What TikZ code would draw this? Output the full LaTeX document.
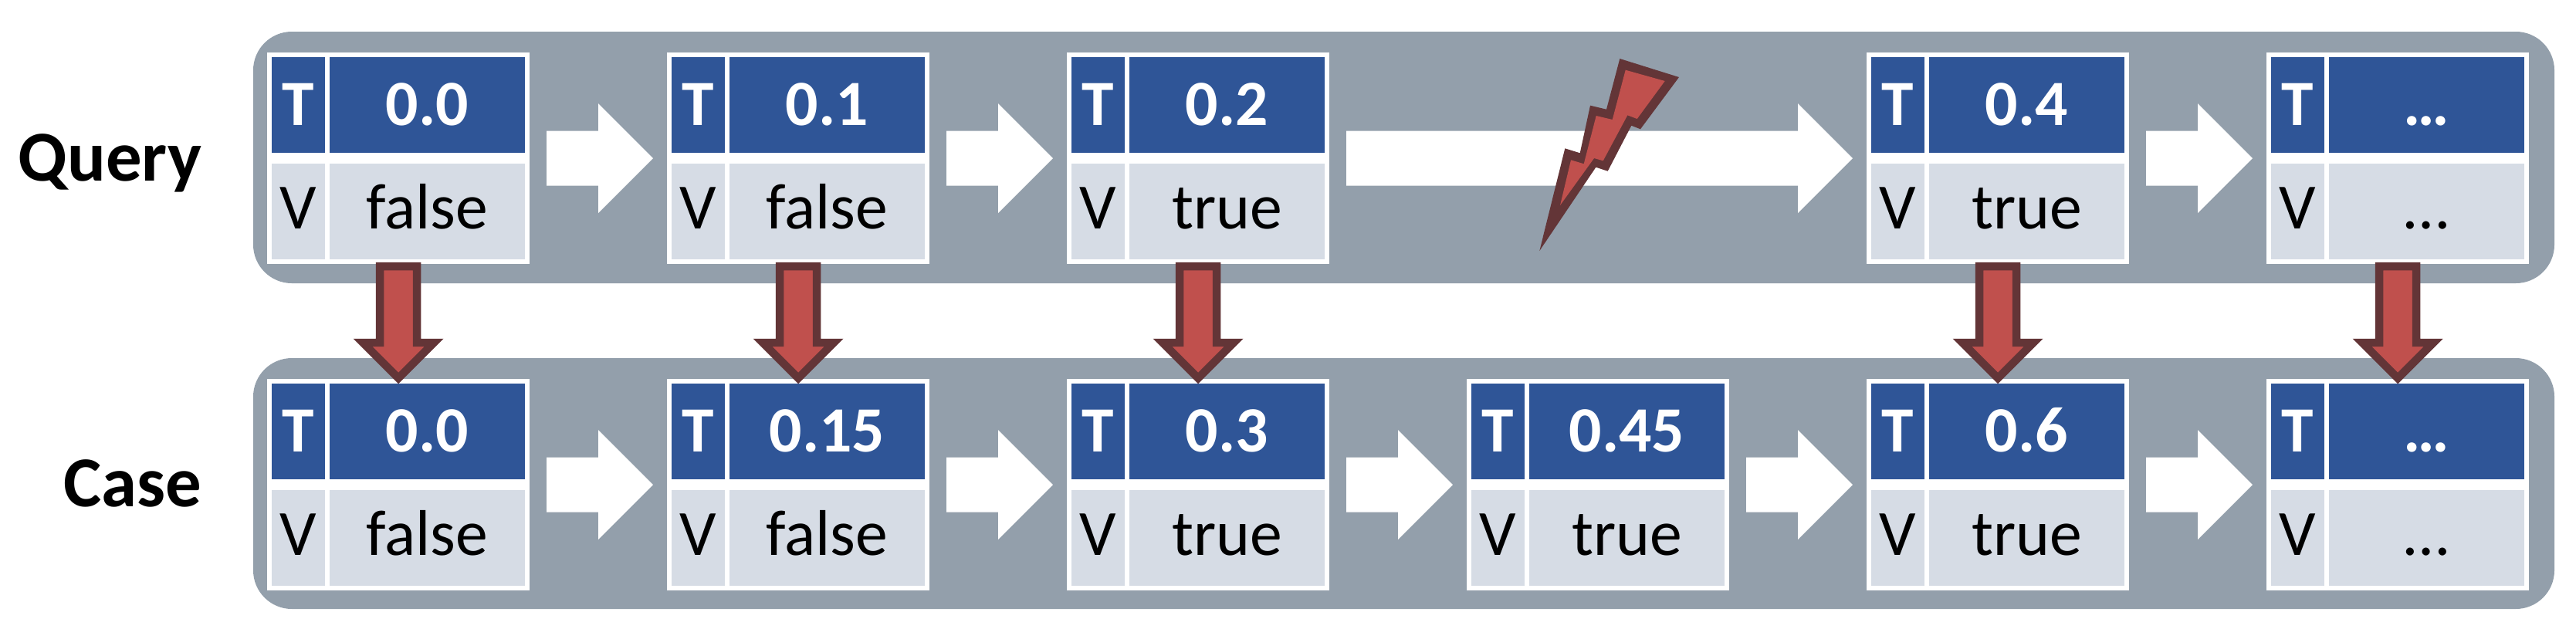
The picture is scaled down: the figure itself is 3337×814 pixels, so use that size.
\documentclass[tikz,border=0pt]{standalone}
\usepackage{fontspec}
\setmainfont{Carlito}
\usetikzlibrary{calc}
\definecolor{panelgray}{RGB}{147,159,171}
\definecolor{cellblue}{RGB}{47,85,151}
\definecolor{celllight}{RGB}{214,220,229}
\definecolor{redfill}{RGB}{192,80,77}
\definecolor{reddark}{RGB}{99,53,55}
\newcommand\cellfont{\fontsize{23.8pt}{28pt}\selectfont}
\newcommand\labelfont{\fontsize{26.4pt}{30pt}\selectfont\bfseries}
\tikzset{
  boxbg/.style={fill=white, draw=none, minimum width=3.4cm, minimum height=2.74cm, inner sep=0pt, outer sep=0pt},
  tcell/.style={fill=cellblue, text=white, font=\cellfont\bfseries, minimum width=0.69cm, minimum height=1.24cm, inner sep=0pt, outer sep=0pt, text height=0.53cm, text depth=0cm},
  tvalcell/.style={tcell, minimum width=2.53cm},
  vcell/.style={fill=celllight, text=black, font=\cellfont, minimum width=0.69cm, minimum height=1.24cm, inner sep=0pt, outer sep=0pt, text height=0.53cm, text depth=0.09cm},
  vvalcell/.style={vcell, minimum width=2.53cm},
  rowlabel/.style={font=\labelfont, text=black, inner sep=0pt, anchor=base east},
  panelbg/.style={fill=panelgray, rounded corners=0.5cm},
  redarr/.style={fill=redfill, draw=reddark, line width=2.95pt, line join=miter},
  blockarr/.style={fill=white}
}
\newcommand\tvbox[5]{%
  \node[boxbg, anchor=north west] (#1) at (#2,#3) {};
  \node[tcell] (#1t) at ($(#1.north west)+(40.5,68)$) {T};
  \node[tvalcell] (#1tv) at ($(#1.north west)+(207.5,68)$) {#4};
  \node[vcell] (#1v) at ($(#1.north west)+(40.5,206)$) {V};
  \node[vvalcell] (#1vv) at ($(#1.north west)+(207.5,206)$) {#5};
}
\newcommand\whitearrow[2]{%
  \fill[blockarr] ($(#1.east)+(22,-35.5)$) -- ($(#2.west)+(-89,-35.5)$) -- ($(#2.west)+(-89,-71)$)
    -- ($(#2.west)+(-18,0)$) -- ($(#2.west)+(-89,71)$) -- ($(#2.west)+(-89,35.5)$)
    -- ($(#1.east)+(22,35.5)$) -- cycle;
}
\newcommand\redarrow[2]{%
  \draw[redarr] ($(#1.south)+(-24,3)$) -- ($(#1.south)+(24,3)$) -- ($(#2.north)+(24,-47)$)
    -- ($(#2.north)+(46,-47)$) -- ($(#2.north)+(0,-1)$) -- ($(#2.north)+(-46,-47)$)
    -- ($(#2.north)+(-24,-47)$) -- cycle;
}
\begin{document}
\begin{tikzpicture}[x=0.01cm, y=-0.01cm]
\useasboundingbox (0,0) rectangle (3337,814);
% panels
\path[panelbg] (328,41) rectangle (3309,367);
\path[panelbg] (328,464) rectangle (3309,789);
% labels
\node[rowlabel] (qlabel) at (262,234) {Query};
\node[rowlabel] (clabel) at (262,656) {Case};
% query boxes
\tvbox{q1}{346}{68}{0.0}{false}
\tvbox{q2}{864}{68}{0.1}{false}
\tvbox{q3}{1382}{68}{0.2}{true}
\tvbox{q5}{2418}{68}{0.4}{true}
\tvbox{q6}{2936}{68}{…}{…}
% case boxes
\tvbox{c1}{346}{491}{0.0}{false}
\tvbox{c2}{864}{491}{0.15}{false}
\tvbox{c3}{1382}{491}{0.3}{true}
\tvbox{c4}{1900}{491}{0.45}{true}
\tvbox{c5}{2418}{491}{0.6}{true}
\tvbox{c6}{2936}{491}{…}{…}
% white arrows
\whitearrow{q1}{q2}
\whitearrow{q2}{q3}
\whitearrow{q3}{q5}
\whitearrow{q5}{q6}
\whitearrow{c1}{c2}
\whitearrow{c2}{c3}
\whitearrow{c3}{c4}
\whitearrow{c4}{c5}
\whitearrow{c5}{c6}
% lightning
\fill[reddark] (2098.3,76) -- (2175,100) -- (2125,167.3) -- (2113.3,162.7) -- (2082.7,221.7)
  -- (2067.3,216.7) -- (1994.3,325) -- (2027.3,192.3) -- (2046.7,198.3) -- (2060,136.7)
  -- (2081,141.7) -- cycle;
\fill[redfill] (2105.7,90.7) -- (2156.7,105) -- (2120.7,154) -- (2108.3,149.3) -- (2076.7,208.3)
  -- (2065,205) -- (2021,266) -- (2035,207.3) -- (2051.7,212.3) -- (2067.7,150)
  -- (2088.7,155) -- cycle;
% red arrows
\redarrow{q1}{c1}
\redarrow{q2}{c2}
\redarrow{q3}{c3}
\redarrow{q5}{c5}
\redarrow{q6}{c6}
\end{tikzpicture}
\end{document}
